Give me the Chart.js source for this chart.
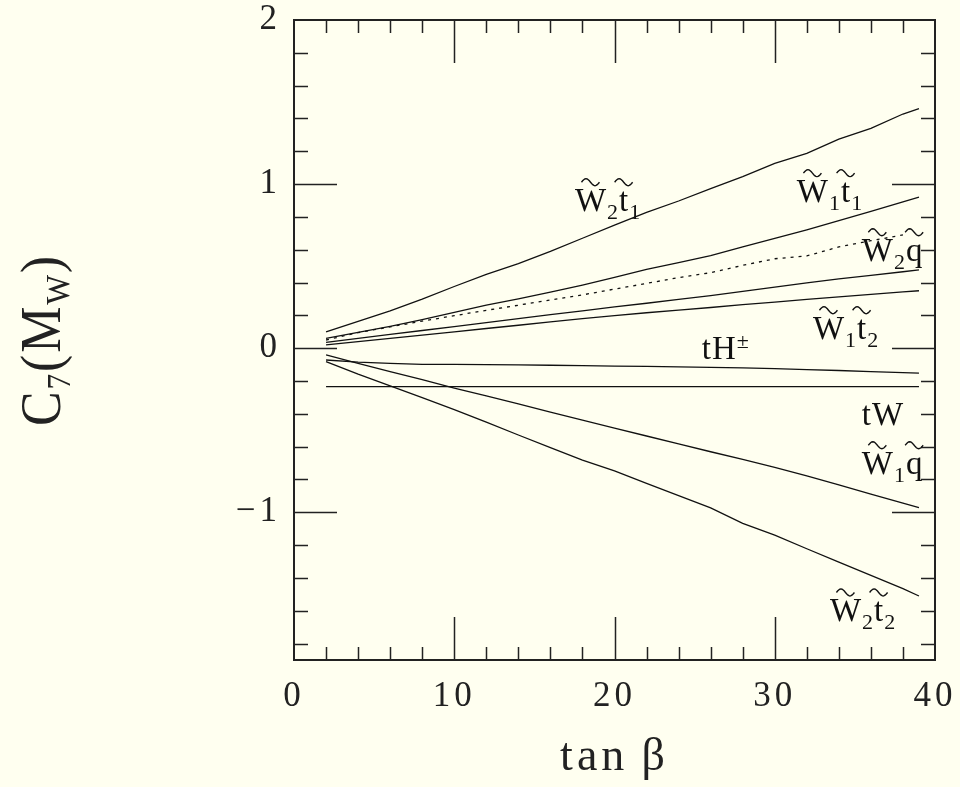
<!DOCTYPE html>
<html>
<head>
<meta charset="utf-8">
<script src="https://cdn.jsdelivr.net/npm/chart.js@4"></script>
<style>
  html, body { margin: 0; padding: 0; background: #fffff0; }
  canvas { display: block; }
</style>
</head>
<body>
<canvas id="c7Chart" width="960" height="787"></canvas>
<script>
// tan(beta) points the curves were read at
const tanBeta = [2, 4, 6, 8, 10, 12, 14, 16, 18, 20, 22, 24, 26, 28, 30, 32, 34, 36, 38, 39];

// C7(MW) contributions
const w2t1 = [0.10, 0.164, 0.228, 0.299, 0.376, 0.45, 0.516, 0.59, 0.67, 0.75, 0.828, 0.897, 0.972, 1.045, 1.126, 1.187, 1.274, 1.34, 1.427, 1.46];
const w1t1 = [0.06, 0.096, 0.133, 0.174, 0.218, 0.262, 0.30, 0.342, 0.385, 0.432, 0.481, 0.522, 0.564, 0.617, 0.669, 0.721, 0.777, 0.834, 0.892, 0.92];
const dotted = [0.05, 0.095, 0.13, 0.165, 0.198, 0.231, 0.262, 0.294, 0.325, 0.36, 0.395, 0.43, 0.46, 0.505, 0.545, 0.562, 0.617, 0.655, 0.69, null];
const w2q = [0.035, 0.06, 0.084, 0.108, 0.132, 0.156, 0.18, 0.204, 0.228, 0.252, 0.274, 0.297, 0.32, 0.346, 0.372, 0.398, 0.422, 0.444, 0.466, 0.477];
const w1t2 = [0.02, 0.04, 0.06, 0.08, 0.10, 0.12, 0.14, 0.16, 0.18, 0.199, 0.216, 0.232, 0.248, 0.265, 0.281, 0.297, 0.313, 0.328, 0.343, 0.35];
const tHpm = [-0.072, -0.085, -0.093, -0.098, -0.099, -0.10, -0.102, -0.104, -0.106, -0.109, -0.111, -0.114, -0.117, -0.12, -0.124, -0.13, -0.136, -0.143, -0.149, -0.152];
const tW = [-0.234, -0.234, -0.234, -0.234, -0.234, -0.234, -0.234, -0.234, -0.234, -0.234, -0.234, -0.234, -0.234, -0.234, -0.234, -0.234, -0.234, -0.234, -0.234, -0.234];
const w1q = [-0.041, -0.092, -0.142, -0.192, -0.243, -0.291, -0.339, -0.39, -0.438, -0.487, -0.535, -0.583, -0.631, -0.678, -0.726, -0.778, -0.833, -0.889, -0.944, -0.971];
const w2t2 = [-0.082, -0.158, -0.229, -0.301, -0.374, -0.45, -0.529, -0.606, -0.682, -0.748, -0.824, -0.898, -0.973, -1.067, -1.139, -1.222, -1.303, -1.384, -1.465, -1.51];

const xTicks = [0, 10, 20, 30, 40];
const yTicks = [-1, 0, 1, 2];

// curve labels: ~ = tilde over next char, _ = subscript, ^ = superscript
const curveLabels = ['~W_2~t_1', '~W_1~t_1', '~W_2~q', '~W_1~t_2', 'tH^\u00b1', 'tW', '~W_1~q', '~W_2~t_2'];
const labelAt = [[17.53, 0.835], [31.38, 0.89], [35.43, 0.53], [32.38, 0.055], [25.45, -0.067], [35.43, -0.47], [35.43, -0.768], [33.44, -1.665]];

const FONT = '"Liberation Serif", serif';

function pts(arr) {
    return tanBeta.map((x, i) => ({ x: x, y: arr[i] }));
}

function line(arr, dash) {
    return {
        data: pts(arr),
        borderColor: '#111',
        borderWidth: 1.3,
        borderDash: dash || [],
        pointRadius: 0,
        tension: 0,
        fill: false
    };
}

function drawTilde(ctx, cx, cy, w) {
    ctx.beginPath();
    for (let k = 0; k <= 16; k++) {
        const t = k / 16;
        const px = cx - w / 2 + w * t;
        const py = cy - 3.5 * Math.sin(t * 2 * Math.PI);
        if (k === 0) ctx.moveTo(px, py); else ctx.lineTo(px, py);
    }
    ctx.stroke();
}

function drawLabel(ctx, text, x, y) {
    let i = 0, cx = x;
    while (i < text.length) {
        let tilde = false, mode = 'main';
        if (text[i] === '~') { tilde = true; i++; }
        if (text[i] === '_') { mode = 'sub'; i++; }
        else if (text[i] === '^') { mode = 'sup'; i++; }
        const ch = text[i++];
        const size = mode === 'main' ? 33 : 22;
        ctx.font = size + 'px ' + FONT;
        const dy = mode === 'sub' ? 8 : (mode === 'sup' ? -11 : 0);
        ctx.fillText(ch, cx, y + dy);
        const w = ctx.measureText(ch).width;
        if (tilde) drawTilde(ctx, cx + w / 2, y - 29, 18);
        cx += w + 1;
    }
}

function drawYTitle(ctx, cx, cy, len) {
    const parts = [['C', 56, 0], ['7', 34, 10], ['(', 56, 0], ['M', 56, 0], ['W', 34, 9], [')', 56, 0]];
    let total = 0;
    parts.forEach(p => { ctx.font = p[1] + 'px ' + FONT; total += ctx.measureText(p[0]).width + 2; });
    ctx.save();
    ctx.translate(cx, cy);
    ctx.rotate(-Math.PI / 2);
    ctx.scale(len / total, 1);
    let x = -total / 2;
    parts.forEach(p => {
        ctx.font = p[1] + 'px ' + FONT;
        ctx.fillText(p[0], x, p[2]);
        x += ctx.measureText(p[0]).width + 2;
    });
    ctx.restore();
}

const framePlugin = {
    id: 'frame',
    afterInit(chart) { chart.ctx.letterSpacing = '4px'; },
    beforeUpdate(chart) { chart.ctx.letterSpacing = '4px'; },
    beforeDraw(chart) { chart.ctx.letterSpacing = '4px'; },
    afterDatasetsDraw(chart) {
        const ctx = chart.ctx;
        const a = chart.chartArea;
        const xs = chart.scales.x, ys = chart.scales.y;
        ctx.save();
        ctx.letterSpacing = '0px';
        ctx.strokeStyle = '#222';
        ctx.lineWidth = 1.5;
        ctx.beginPath();
        for (let v = 2; v < 40; v += 2) {
            const px = Math.round(xs.getPixelForValue(v)) + 0.5;
            const len = v % 10 === 0 ? 43 : 13;
            ctx.moveTo(px, a.bottom); ctx.lineTo(px, a.bottom - len);
            ctx.moveTo(px, a.top); ctx.lineTo(px, a.top + len);
        }
        for (let k = -9; k <= 9; k++) {
            const py = Math.round(ys.getPixelForValue(k / 5)) + 0.5;
            const len = k % 5 === 0 ? 43 : 14;
            ctx.moveTo(a.left, py); ctx.lineTo(a.left + len, py);
            ctx.moveTo(a.right, py); ctx.lineTo(a.right - len, py);
        }
        ctx.stroke();
        ctx.lineWidth = 2;
        ctx.strokeRect(a.left, a.top, a.right - a.left, a.bottom - a.top);

        // curve labels
        ctx.fillStyle = '#111';
        ctx.strokeStyle = '#111';
        ctx.lineWidth = 1.4;
        ctx.textBaseline = 'alphabetic';
        ctx.textAlign = 'left';
        curveLabels.forEach((t, i) => {
            drawLabel(ctx, t, xs.getPixelForValue(labelAt[i][0]), ys.getPixelForValue(labelAt[i][1]));
        });

        // y axis title
        ctx.fillStyle = '#222';
        drawYTitle(ctx, 60, (a.top + a.bottom) / 2, 172);
        ctx.restore();
    }
};

const config = {
    type: 'line',
    data: {
        datasets: [
            line(w2t1), line(w1t1), line(dotted, [3, 5]), line(w2q), line(w1t2),
            line(tHpm), line(tW), line(w1q), line(w2t2)
        ]
    },
    options: {
        responsive: false,
        animation: false,
        events: [],
        layout: { padding: { top: 20, right: 25, left: 0, bottom: 0 } },
        plugins: { legend: { display: false }, tooltip: { enabled: false } },
        scales: {
            x: {
                type: 'linear',
                min: 0,
                max: 40,
                afterBuildTicks: s => { s.ticks = xTicks.map(v => ({ value: v })); },
                afterFit: s => { s.height = 127; s.paddingLeft = 0; s.paddingRight = 0; },
                grid: { display: false, drawTicks: false },
                border: { display: false },
                ticks: { font: { family: FONT, size: 35 }, color: '#222', padding: 16, maxRotation: 0, autoSkip: false },
                title: { display: true, text: 'tan\u2009\u03b2', color: '#222', font: { family: FONT, size: 46 }, padding: { top: 0, bottom: 1 } }
            },
            y: {
                type: 'linear',
                min: -1.9,
                max: 2,
                afterBuildTicks: s => { s.ticks = yTicks.map(v => ({ value: v })); },
                afterFit: s => { s.width = 294; s.paddingTop = 0; s.paddingBottom = 0; },
                grid: { display: false, drawTicks: false },
                border: { display: false },
                ticks: {
                    font: { family: FONT, size: 35 },
                    color: '#222',
                    padding: 13,
                    callback: v => v < 0 ? '\u2212' + Math.abs(v) : String(v)
                }
            }
        }
    },
    plugins: [framePlugin]
};

const ctx = document.getElementById('c7Chart').getContext('2d');
const c7Chart = new Chart(ctx, config);
</script>
</body>
</html>
